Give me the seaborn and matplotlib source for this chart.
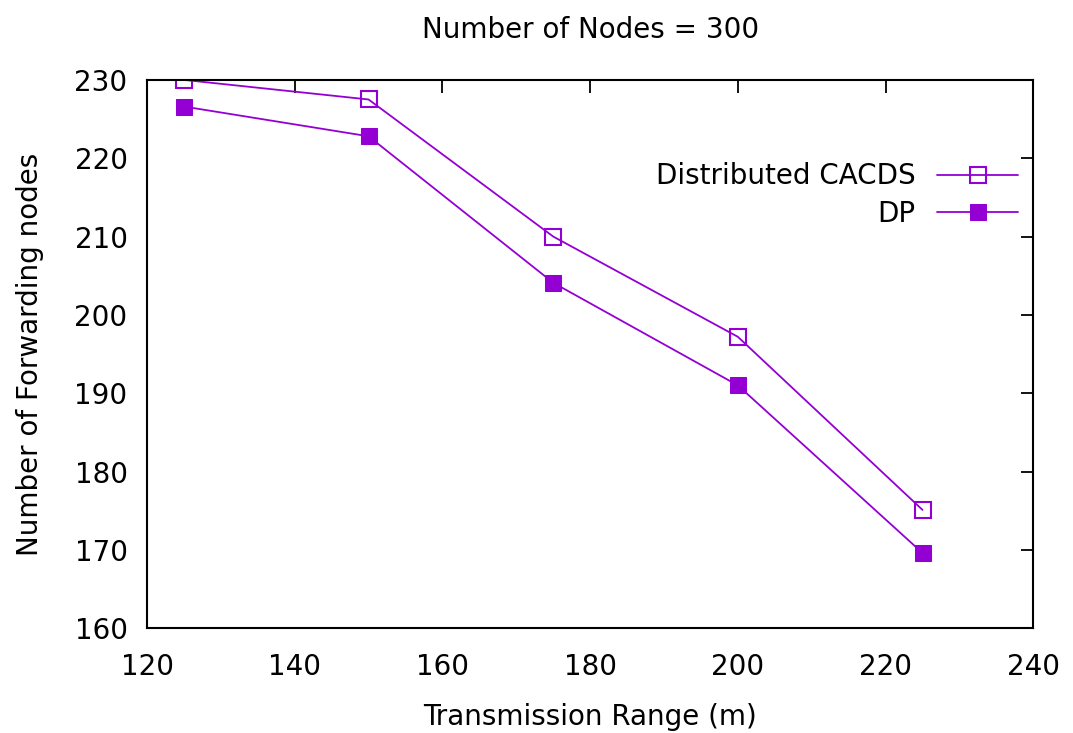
import matplotlib
matplotlib.use("Agg")
import matplotlib.pyplot as plt
import seaborn as sns
import pandas as pd

x_range = [125, 150, 175, 200, 225]
cacds = [230.0, 227.5, 210.0, 197.2, 175.1]
dp = [226.6, 222.8, 204.1, 191.0, 169.6]
series_names = ["Distributed CACDS", "DP"]

sns.set_theme(style="white")
plt.rcParams['font.family'] = ['DejaVu Sans']
plt.rcParams['text.color'] = 'black'
plt.rcParams['axes.labelcolor'] = 'black'

fig = plt.figure(figsize=(10.73, 7.33), dpi=100)
ax = fig.add_axes([0.137, 0.143, 0.826, 0.748])

color = "#9400D3"
df1 = pd.DataFrame({"x": x_range, "y": cacds})
df2 = pd.DataFrame({"x": x_range, "y": dp})
sns.lineplot(data=df1, x="x", y="y", ax=ax, color=color, lw=1.3, marker="s",
             markersize=11, markerfacecolor="none", markeredgecolor=color,
             markeredgewidth=1.5, label=series_names[0])
sns.lineplot(data=df2, x="x", y="y", ax=ax, color=color, lw=1.3, marker="s",
             markersize=11, markerfacecolor=color, markeredgecolor=color,
             label=series_names[1])

ax.set_xlim(120, 240)
ax.set_ylim(160, 230)
ax.set_xticks(range(120, 241, 20))
ax.set_yticks(range(160, 231, 10))
ax.tick_params(direction="in", length=9, width=1.3, top=True, right=True,
               labelsize=20, colors="black")
ax.tick_params(axis="y", pad=14)
ax.tick_params(axis="x", pad=18)
for s in ax.spines.values():
    s.set_color("black")
    s.set_linewidth(1.5)
ax.set_xlabel("Transmission Range (m)", fontsize=20, labelpad=16)
ax.set_ylabel("Number of Forwarding nodes", fontsize=20, labelpad=22)
ax.set_title("Number of Nodes = 300", fontsize=20, pad=30)

leg = ax.legend(loc="upper right", bbox_to_anchor=(1.011, 0.895), frameon=False,
                markerfirst=False, fontsize=20, handlelength=2.9,
                labelspacing=0.35, handletextpad=0.8)

fig.savefig("out.png", dpi=100)
